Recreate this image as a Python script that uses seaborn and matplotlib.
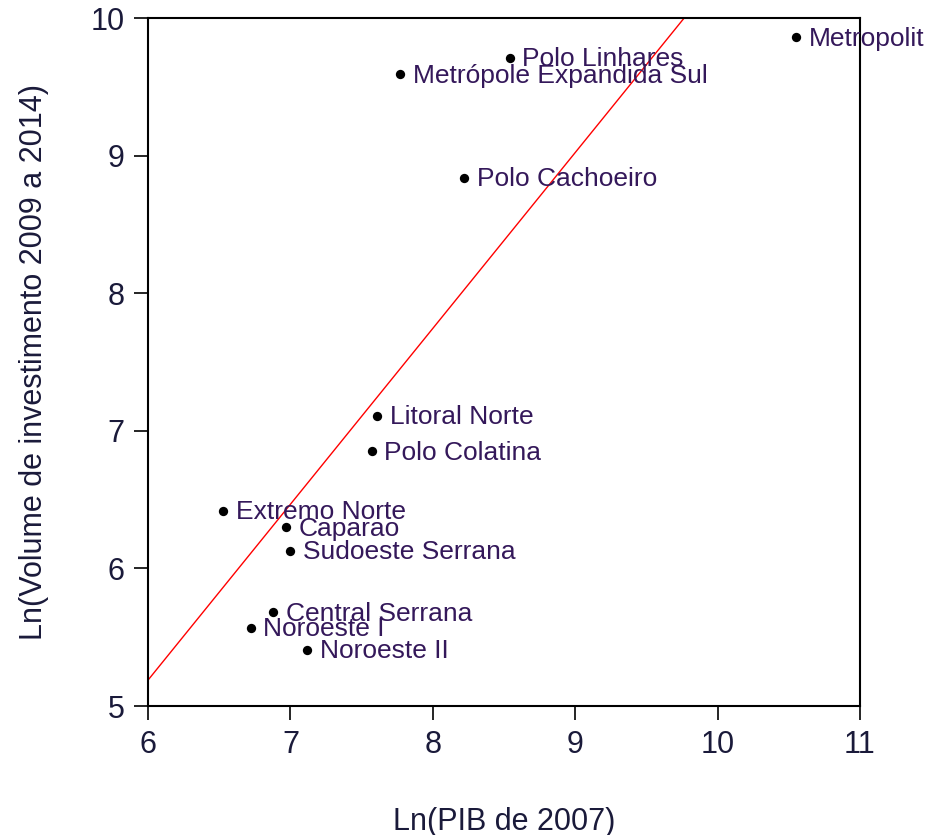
import matplotlib
matplotlib.use("Agg")
import matplotlib.pyplot as plt
import seaborn as sns
import pandas as pd

# regions: Ln(PIB 2007) vs Ln(investment volume 2009-2014)
regions = ["Metropolit", "Polo Linhares", "Metrópole Expandida Sul", "Polo Cachoeiro",
           "Litoral Norte", "Polo Colatina", "Extremo Norte", "Caparao",
           "Sudoeste Serrana", "Central Serrana", "Noroeste I", "Noroeste II"]
ln_pib = [10.55, 8.54, 7.77, 8.22, 7.61, 7.57, 6.53, 6.97, 7.00, 6.88, 6.72, 7.12]
ln_invest = [9.86, 9.71, 9.59, 8.84, 7.11, 6.85, 6.42, 6.30, 6.13, 5.68, 5.57, 5.41]

# fitted line (abline)
fit_intercept = -2.48
fit_slope = 1.278

x_ticks = [6, 7, 8, 9, 10, 11]
y_ticks = [5, 6, 7, 8, 9, 10]

df = pd.DataFrame({"regiao": regions, "pib": ln_pib, "inv": ln_invest})

sns.set_style("white")
plt.rcParams["font.family"] = ["Liberation Sans", "DejaVu Sans"]

fig = plt.figure(figsize=(9.3, 8.35), dpi=100)
ax = fig.add_axes([148 / 930, 1 - 706 / 835, (860 - 148) / 930, (706 - 18) / 835])

sns.scatterplot(data=df, x="pib", y="inv", color="black", s=45, edgecolor="black",
                linewidth=0, ax=ax, zorder=3, legend=False)
ax.axline((0, fit_intercept), slope=fit_slope, color="red", linewidth=1.0, zorder=2)

for _, r in df.iterrows():
    ax.annotate(r["regiao"], (r["pib"], r["inv"]), xytext=(9, -1), textcoords="offset points",
                ha="left", va="center", fontsize=19, color="#34185a", annotation_clip=False,
                zorder=4)

ax.set_xlim(6, 11)
ax.set_ylim(5, 10)
ax.set_xticks(x_ticks)
ax.set_yticks(y_ticks)
ax.tick_params(axis="both", which="major", length=10, width=1.2, labelsize=22,
               direction="out", color="black", labelcolor="#1a1a3a", left=True, bottom=True, pad=7)
ax.margins(0)
for s in ax.spines.values():
    s.set_color("black")
    s.set_linewidth(1.5)

ax.set_xlabel("Ln(PIB de 2007)", fontsize=22, color="#1a1a3a", labelpad=34)
ax.set_ylabel("Ln(Volume de investimento 2009 a 2014)", fontsize=22, color="#1a1a3a", labelpad=30)

fig.savefig("out.png", dpi=100)
